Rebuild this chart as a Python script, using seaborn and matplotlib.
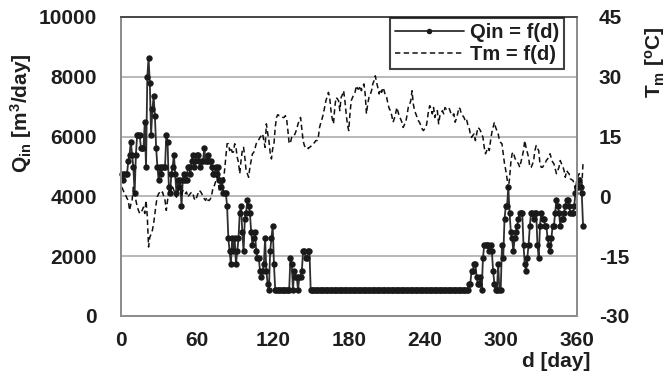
import matplotlib
matplotlib.use("Agg")
import matplotlib.pyplot as plt
import seaborn as sns
import pandas as pd
from matplotlib.lines import Line2D

# Daily inflow Qin [m3/day] and mean air temperature Tm [degC], days 1..365
days = list(range(1, 366))

q_winter_spring = [
    4752, 4536, 4752, 4752, 4752, 5184, 5400, 5832, 5400, 4968,
    4104, 5400, 6048, 6048, 6048, 5616, 5616, 5616, 6480, 4968,
    7992, 8640, 7776, 6048, 6912, 7344, 6696, 5616, 4968, 4536,
    4968, 4752, 4968, 4968, 4968, 6048, 5832, 4320, 4104, 4752,
    4968, 5400, 4752, 4104, 4536, 4320, 4536, 3672, 4536, 4752,
    4536, 4536, 4968, 4968, 4752, 5184, 5400, 4968, 5184, 5400,
    5400, 5184, 4968, 5184, 5184, 5616, 5184, 5184, 5400, 5184,
    5184, 4968, 4752, 4752, 4968, 4752, 4968, 4536, 4320, 4536,
    4104, 4104, 4104,
]
q_spring_drop = [
    3672, 2592, 2160, 1728, 2592, 2160, 2592, 1728, 2160, 2592,
    3456, 3672, 2808, 2160, 3240, 3456, 3888, 3672, 3456, 2808,
    2376, 2592, 2808, 2160, 1944, 1944, 1512, 1296, 1512, 1728,
    2592, 1512, 1080, 864, 2160, 2592, 3024, 1728, 864, 864,
    864, 864, 864, 864, 864, 864, 864, 864, 864, 864,
    1944, 1728, 864, 1512, 1296, 1296, 864, 1296, 1296, 1512,
    2160, 2160, 1944, 1944, 2160, 2160, 864,
]
q_summer_base = [864] * 124
q_autumn = [
    1080, 1080, 1512, 1512, 1728, 1728, 1296, 1080, 1080, 1296,
    864, 1944, 2376, 2376, 2376, 2376, 2160, 2376, 2160, 1512,
    1080, 864, 864, 1728, 864, 864, 2376, 1944, 3240, 3672,
    3672, 4320, 3456, 2808, 2592, 2160, 2592, 2808, 3024, 3240,
    3456, 3456, 3456, 2376, 1728, 1512, 1944, 2376, 3024, 3456,
    3456, 3240, 3456, 3456, 2376, 1944, 3024, 3456, 3240, 3240,
    3024, 3024, 2592, 2376, 2160, 2592, 3024, 3024, 3456, 3888,
    3672, 3456, 3024, 3240, 3240, 3456, 3672, 3888, 3888, 3672,
    3456, 3456, 3456, 3672, 4104, 4320, 4320, 4536, 4320, 4104,
    3024,
]
q_in = q_winter_spring + q_spring_drop + q_summer_base + q_autumn

t_m = [
    2.3, 1.5, 0.7, 0.2, -0.5, -1.0, -3.5, -2.0, -1.0, 2.3,
    0.5, -1.0, -2.5, -3.5, -4.3, -3.8, -3.5, -2.7, -4.3, -1.0,
    -5.0, -12.7, -10.2, -9.5, -8.5, -6.8, -4.3, -1.8, 0.0, 0.7,
    1.1, 0.7, 1.1, 0.0, -1.0, -3.5, -1.0, 1.0, 2.3, 1.1,
    2.3, 1.5, 0.7, -0.2, 1.1, 2.0, 2.3, -0.2, 1.5, 0.7,
    0.7, 1.1, -0.2, 0.3, 0.7, 1.1, 0.7, -0.5, -1.0, -0.2,
    0.7, 1.5, 1.2, 0.7, -0.2, -0.6, -1.0, -0.2, -1.0, -1.0,
    -0.5, 0.7, 2.3, 2.75, 3.8, 4.8, 3.6, 1.1, 2.0, 2.75,
    3.6, 6.5, 10.0, 13.2, 13.2, 11.5, 12.3, 11.1, 11.1, 13.2,
    12.3, 9.8, 8.5, 5.7, 9.0, 11.5, 12.3, 9.8, 6.5, 5.7,
    4.8, 7.3, 9.0, 10.7, 11.0, 12.0, 13.2, 13.8, 14.2, 14.8,
    15.2, 15.7, 14.0, 12.3, 18.2, 16.0, 14.0, 11.0, 9.4, 12.0,
    13.2, 17.3, 19.8, 20.5, 20.25, 20.25, 20.0, 19.8, 19.8, 20.25,
    19.4, 16.5, 13.2, 13.5, 14.8, 15.25, 15.25, 16.0, 16.9, 18.2,
    19.0, 19.8, 16.9, 14.0, 12.75, 12.3, 12.5, 12.0, 12.3, 12.5,
    13.0, 13.2, 13.5, 14.0, 14.0, 14.8, 17.3, 18.5, 19.5, 20.7,
    22.3, 24.0, 25.0, 26.1, 24.8, 21.5, 19.5, 18.2, 22.3, 24.8,
    24.5, 24.0, 21.5, 24.8, 25.5, 26.5, 24.0, 20.7, 18.0, 16.5,
    20.7, 24.0, 24.8, 25.5, 26.1, 27.75, 27.0, 26.9, 27.75, 26.5,
    27.5, 28.2, 25.7, 20.7, 23.2, 24.8, 25.5, 26.5, 28.2, 29.0,
    30.25, 28.6, 27.3, 25.7, 26.9, 26.1, 27.3, 26.5, 25.25, 24.8,
    23.2, 22.0, 21.5, 20.25, 18.6, 19.5, 20.7, 22.3, 21.1, 20.0,
    19.4, 18.6, 17.3, 18.0, 18.6, 20.25, 22.3, 23.0, 24.0, 26.5,
    23.2, 21.5, 20.7, 19.8, 19.0, 18.5, 17.75, 16.9, 16.5, 17.0,
    17.3, 19.0, 21.5, 22.75, 22.0, 20.7, 22.3, 19.8, 21.0, 21.5,
    18.2, 20.25, 21.0, 21.5, 20.7, 22.3, 21.9, 22.0, 22.3, 21.5,
    20.5, 20.25, 20.7, 18.6, 19.5, 20.7, 22.3, 21.9, 20.5, 20.25,
    19.8, 19.0, 19.4, 18.0, 17.3, 15.7, 14.8, 15.3, 15.7, 14.0,
    15.7, 17.3, 17.0, 16.5, 15.7, 14.8, 12.3, 10.7, 11.5, 12.3,
    11.5, 14.0, 16.0, 17.3, 18.6, 17.3, 16.5, 15.7, 14.0, 13.5,
    13.2, 10.7, 8.2, 6.5, 4.5, 2.0, 4.5, 8.5, 10.7, 11.1,
    9.8, 9.0, 8.6, 8.2, 7.3, 8.6, 10.0, 11.5, 14.0, 12.3,
    11.0, 9.8, 7.3, 7.3, 8.0, 9.0, 11.5, 12.75, 12.0, 11.5,
    8.2, 7.3, 7.3, 7.8, 8.2, 9.0, 9.4, 9.8, 10.7, 9.4,
    8.6, 8.2, 6.9, 5.7, 6.5, 7.3, 9.0, 8.2, 7.5, 6.5,
    4.8, 6.5, 6.0, 5.7, 4.4, 4.2, 4.0, 3.2, 1.5, 4.0,
    5.0, 5.7, 4.0, 2.5, 8.5,
]

x_ticks = [0, 60, 120, 180, 240, 300, 360]
q_ticks = [0, 2000, 4000, 6000, 8000, 10000]
t_ticks = [-30, -15, 0, 15, 30, 45]

df = pd.DataFrame({"day": days, "Qin": q_in, "Tm": t_m})

sns.set_style("white")
plt.rcParams["font.family"] = ["Liberation Sans", "DejaVu Sans"]
plt.rcParams["font.weight"] = "bold"
plt.rcParams["mathtext.default"] = "regular"
plt.rcParams["axes.unicode_minus"] = False

TXT = "#1e1e1e"
FS = 15

fig = plt.figure(figsize=(6.72, 3.76), dpi=100)
ax = fig.add_axes([0.1796, 0.1596, 0.6786, 0.7952])
ax2 = ax.twinx()

sns.lineplot(data=df, x="day", y="Qin", ax=ax, color="#2e2e2e", linewidth=1.3,
             marker="o", markersize=4.6, markeredgewidth=0,
             markerfacecolor="#1a1a1a", legend=False)
sns.lineplot(data=df, x="day", y="Tm", ax=ax2, color="#111111", linewidth=1.1,
             legend=False)
for ln in ax2.lines:
    ln.set_dashes((3.5, 2.2))
    ln.set_clip_on(False)
for ln in ax.lines:
    ln.set_clip_on(False)

ax.set_xlim(0, 360)
ax.set_ylim(0, 10000)
ax2.set_ylim(-30, 45)
ax.set_xticks(x_ticks)
ax.set_yticks(q_ticks)
ax2.set_yticks(t_ticks)

ax.set_axisbelow(True)
ax.yaxis.grid(True, color="#ababab", linewidth=1.2)
ax.xaxis.grid(False)

for a in (ax, ax2):
    for side in ("left", "right", "bottom"):
        a.spines[side].set_color("#8c8c8c")
        a.spines[side].set_linewidth(1.3)
    a.spines["top"].set_color("#4a4a4a")
    a.spines["top"].set_linewidth(1.3)

ax.tick_params(axis="x", direction="in", length=5, width=1, color="#8c8c8c",
               pad=11, labelsize=FS, labelcolor=TXT)
ax.tick_params(axis="y", length=0, pad=17, labelsize=FS, labelcolor=TXT)
ax2.tick_params(axis="y", length=0, pad=16, labelsize=FS, labelcolor=TXT)
for lab in ax.get_xticklabels() + ax.get_yticklabels() + ax2.get_yticklabels():
    lab.set_fontweight("bold")

ax.set_xlabel("d [day]", fontsize=FS, fontweight="bold", color=TXT)
ax.xaxis.set_label_coords(0.955, -0.12)
ax.set_ylabel(r"Q$_{in}$ [m$^{3}$/day]", fontsize=FS, fontweight="bold", color=TXT)
ax.yaxis.set_label_coords(-0.19, 0.68)
ax2.set_ylabel(r"T$_{m}$ [$^{o}$C]", fontsize=FS, fontweight="bold", color=TXT)
ax2.yaxis.set_label_coords(1.145, 0.85)

handles = [
    Line2D([], [], color="#2e2e2e", linewidth=1.3, marker="o", markersize=4,
           markevery=[1], markeredgewidth=0, markerfacecolor="#1a1a1a"),
    Line2D([], [], color="#111111", linewidth=1.1, dashes=(3.5, 2.2)),
]
leg = ax2.legend(handles, ["Qin = f(d)", "Tm = f(d)"], loc="upper right",
                 bbox_to_anchor=(0.972, 0.997), frameon=True, fancybox=False,
                 handlelength=3.4, handletextpad=0.3, borderpad=0.25,
                 labelspacing=0.15, prop={"size": 14.5, "weight": "bold"},
                 borderaxespad=0)
leg.get_frame().set_edgecolor("#111111")
leg.get_frame().set_linewidth(1.5)
for t in leg.get_texts():
    t.set_color(TXT)

fig.savefig("out.png", dpi=100)
